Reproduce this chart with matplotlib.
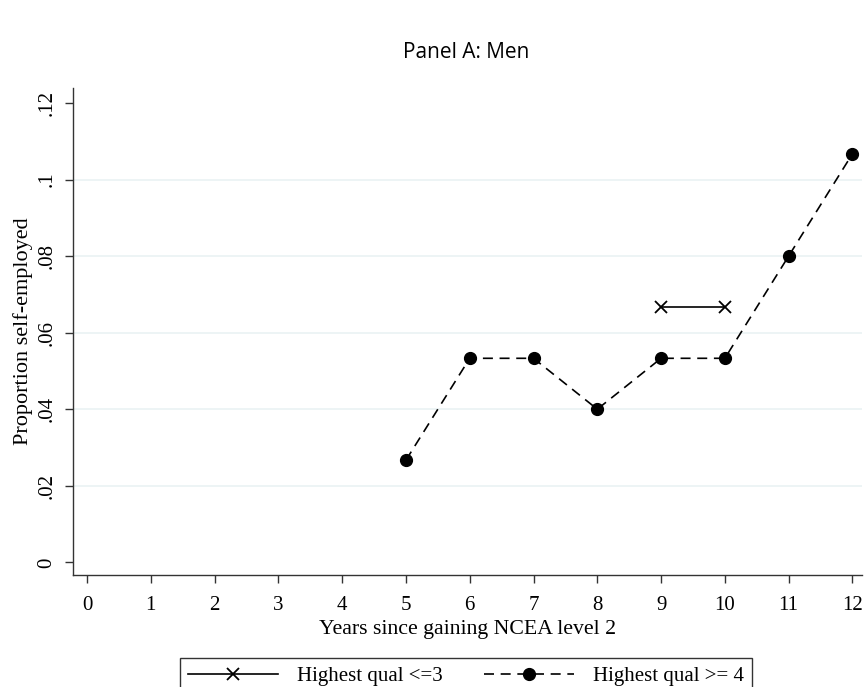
import matplotlib.pyplot as plt

years = list(range(0, 13))
low_years = [9, 10]
low_vals = [0.0667, 0.0667]
high_years = [5, 6, 7, 8, 9, 10, 11, 12]
high_vals = [0.0267, 0.0533, 0.0533, 0.04, 0.0533, 0.0533, 0.08, 0.1067]
yticks = [0, 0.02, 0.04, 0.06, 0.08, 0.1, 0.12]
ytick_labels = ["0", ".02", ".04", ".06", ".08", ".1", ".12"]

serif = "Liberation Serif"

fig = plt.figure(figsize=(8.66, 6.87), dpi=100)
ax = fig.add_axes([73 / 866, 1 - 575 / 687, (862 - 73) / 866, (575 - 88) / 687])

for t in yticks[1:-1]:
    ax.axhline(t, color="#eaf2f3", lw=1.2, zorder=0)

ax.plot(low_years, low_vals, color="black", lw=1.2, marker="x", markersize=8,
        markeredgewidth=1.3, label="Highest qual <=3")
ax.plot(high_years, high_vals, color="black", lw=1.2, linestyle=(0, (6, 4)),
        marker="o", markersize=8.5, label="Highest qual >= 4")

ax.set_xlim(-0.22, 12.15)
ax.set_ylim(-0.0033, 0.1239)
ax.set_xticks(years)
ax.set_xticklabels([str(y) for y in years], fontfamily=serif, fontsize=15)
ax.set_yticks(yticks)
ax.set_yticklabels(ytick_labels, fontfamily=serif, fontsize=15, rotation=90, va="center")
ax.tick_params(axis="both", direction="out", length=6, width=1, color="#333333")
ax.tick_params(axis="x", pad=9)
ax.tick_params(axis="y", pad=6)

for s in ["top", "right"]:
    ax.spines[s].set_visible(False)
for s in ["left", "bottom"]:
    ax.spines[s].set_color("#333333")
    ax.spines[s].set_linewidth(1)

ax.set_xlabel("Years since gaining NCEA level 2", fontfamily=serif, fontsize=15.7, labelpad=4)
ax.set_ylabel("Proportion self-employed", fontfamily=serif, fontsize=16, labelpad=3)

fig.text(466 / 866, 1 - 52 / 687, "Panel A: Men", ha="center", va="center",
         fontfamily="Open Sans", fontsize=15)

leg = fig.legend(loc="lower center", bbox_to_anchor=(466 / 866, -0.026), ncol=2,
                 frameon=True, fancybox=False, edgecolor="black",
                 prop={"family": serif, "size": 15}, handlelength=4.3,
                 handletextpad=0.9, columnspacing=2.0, borderpad=0.4)
leg.get_frame().set_linewidth(1)

fig.savefig("out.png", dpi=100)
